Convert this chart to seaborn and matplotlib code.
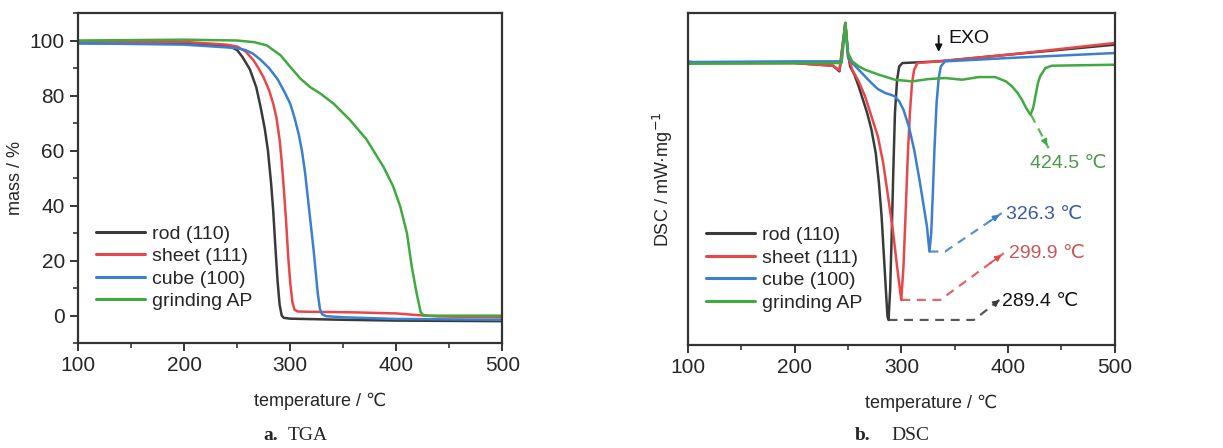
import numpy as np
import pandas as pd
import matplotlib
matplotlib.use("Agg")
import matplotlib.pyplot as plt
import seaborn as sns
from matplotlib.ticker import MultipleLocator

# === data: TGA (mass %) ===
tga_rod_t = [100, 200, 240, 245, 250, 255, 262, 268, 272, 276, 279, 282, 284, 286, 288, 290, 292, 294, 300, 350, 400, 500]
tga_rod_m = [99, 99, 98, 97.5, 96.5, 94, 89.5, 83, 76, 68, 60, 48, 38, 25, 13, 4, 0, -0.8, -1.1, -1.5, -1.8, -2]
tga_sheet_t = [100, 200, 240, 250, 258, 265, 270, 275, 280, 284, 287, 290, 292, 294, 296, 298, 300, 302, 304, 307, 320, 360, 400, 420, 440, 500]
tga_sheet_m = [99.5, 99.5, 98.5, 97.8, 96, 93, 90, 86.5, 82, 77, 72, 64, 56, 46, 35, 22, 12, 5, 2.2, 1.5, 1.4, 1.2, 0.8, 0.2, -0.3, -0.6]
tga_cube_t = [100, 200, 240, 250, 258, 265, 272, 280, 288, 295, 300, 304, 308, 311, 314, 316, 318, 320, 322, 324, 326, 328, 330, 334, 350, 400, 500]
tga_cube_m = [99, 98.5, 97.5, 97.2, 96.5, 95.2, 93, 90, 86, 81, 77, 72, 66, 60, 52, 45, 38, 31, 24, 16, 8, 2.5, 0.5, -0.2, -0.6, -1.2, -1.5]
tga_ap_t = [100, 200, 250, 266, 278, 291, 300, 310, 319, 328.5, 341, 356.6, 372, 388, 397, 403.6, 410, 414.5, 419, 423, 425.5, 430, 500]
tga_ap_m = [100, 100.3, 100, 99.4, 98.2, 94.6, 90.4, 86, 83, 80.7, 77, 71, 64, 54, 47, 39.8, 30, 18, 8.4, 1.2, 0.2, 0, 0]

# === data: DSC (arbitrary units, mW/mg) ===
dsc_rod_t = [100, 200, 236, 242, 247.5, 250, 252, 256, 260, 264, 268, 272, 276, 279, 281.5, 283.5, 285.5, 287, 288,
             289.5, 291, 292.5, 294, 296, 298, 301, 335, 400, 500]
dsc_rod_v = [0.0, 0.0, -0.08, -0.25, 1.2, 0.3, -0.1, -0.35, -0.7, -1.1, -1.5, -2.0, -2.7, -3.6, -4.6, -5.7, -6.8, -7.6, -7.7,
             -6.8, -5.1, -3.2, -1.5, -0.5, -0.1, 0.0, 0.05, 0.25, 0.55]
dsc_sheet_t = [100, 200, 236, 242, 247.5, 250, 254, 260, 266, 272, 278, 283, 288, 292, 296, 299.9,
               302, 304, 306, 308, 310, 312, 315, 335, 400, 500]
dsc_sheet_v = [0.0, 0.0, -0.08, -0.22, 1.2, 0.2, -0.2, -0.55, -1.0, -1.6, -2.2, -3.0, -4.1, -5.0, -6.1, -7.1,
               -6.1, -4.5, -2.8, -1.5, -0.6, -0.2, 0.0, 0.05, 0.25, 0.6]
dsc_cube_t = [100, 105, 200, 244, 247.5, 250, 254, 260, 266, 272, 278, 285, 290, 294, 298, 302, 307, 312, 317, 321, 324,
              326.3, 328, 329.5, 331, 333, 335, 337, 341, 400, 500]
dsc_cube_v = [0.05, 0.03, 0.05, 0.05, 1.2, 0.2, 0.0, -0.2, -0.4, -0.6, -0.78, -0.9, -0.95, -1.0, -1.15, -1.4, -1.9, -2.6,
              -3.5, -4.3, -4.9, -5.65, -5.1, -3.9, -2.6, -1.2, -0.45, -0.1, 0.05, 0.15, 0.3]
dsc_ap_t = [100, 200, 244, 247.5, 250, 254, 260, 266, 279, 294, 310, 325.6, 341, 357, 372.5, 388, 398, 403.7, 409, 413,
            417, 421, 423.5, 425.6, 428, 430, 435, 441, 500]
dsc_ap_v = [-0.02, 0.0, 0.0, 1.2, 0.3, 0.05, -0.1, -0.2, -0.35, -0.5, -0.55, -0.48, -0.45, -0.5, -0.42, -0.42, -0.55, -0.7,
            -0.9, -1.1, -1.35, -1.55, -1.35, -1.0, -0.6, -0.4, -0.15, -0.08, -0.05]

labels = ["rod (110)", "sheet (111)", "cube (100)", "grinding AP"]
colors = ["#3a3a3a", "#e8474a", "#3b7fd0", "#3faa3f"]

# peak labels
peak_text = ["289.4 ℃", "299.9 ℃", "326.3 ℃", "424.5 ℃"]
peak_colors = ["#111111", "#c9555a", "#3a5aa0", "#4a9a4a"]

tga = pd.concat([
    pd.DataFrame({"T": t, "v": m, "sample": lab})
    for t, m, lab in zip([tga_rod_t, tga_sheet_t, tga_cube_t, tga_ap_t],
                         [tga_rod_m, tga_sheet_m, tga_cube_m, tga_ap_m], labels)
])
dsc = pd.concat([
    pd.DataFrame({"T": t, "v": m, "sample": lab})
    for t, m, lab in zip([dsc_rod_t, dsc_sheet_t, dsc_cube_t, dsc_ap_t],
                         [dsc_rod_v, dsc_sheet_v, dsc_cube_v, dsc_ap_v], labels)
])

sns.set_style("ticks")
fam = ["Liberation Sans", "DejaVu Sans"]
plt.rcParams["font.family"] = fam
plt.rcParams["axes.linewidth"] = 1.6
plt.rcParams["axes.edgecolor"] = "#333333"

fig = plt.figure(figsize=(12.23, 4.48), dpi=100)
ax1 = fig.add_axes([0.0638, 0.234, 0.347, 0.737])
ax2 = fig.add_axes([0.5625, 0.230, 0.349, 0.741])

pal = dict(zip(labels, colors))

# === TGA ===
sns.lineplot(data=tga, x="T", y="v", hue="sample", palette=pal, sort=False,
             estimator=None, lw=1.8, ax=ax1)
ax1.set_xlim(100, 500)
ax1.set_ylim(-10, 110)
ax1.set_xticks([100, 200, 300, 400, 500])
ax1.xaxis.set_minor_locator(MultipleLocator(50))
ax1.set_yticks([0, 20, 40, 60, 80, 100])
ax1.yaxis.set_minor_locator(MultipleLocator(10))
ax1.set_xlabel("temperature / ℃", fontsize=13, labelpad=12)
ax1.set_ylabel("mass / %", fontsize=13, labelpad=4)

# === DSC ===
sns.lineplot(data=dsc, x="T", y="v", hue="sample", palette=pal, sort=False,
             estimator=None, lw=1.8, ax=ax2)
ax2.set_xlim(100, 500)
ax2.set_ylim(-8.45, 1.5)
ax2.set_xticks([100, 200, 300, 400, 500])
ax2.xaxis.set_minor_locator(MultipleLocator(50))
ax2.set_yticks([])
ax2.set_xlabel("temperature / ℃", fontsize=13, labelpad=12)
ax2.set_ylabel("DSC / mW·mg$^{-1}$", fontsize=13, labelpad=9)

# dashed leaders to peak labels
leaders = [
    ([288, 368, 394], [-7.7, -7.7, -7.05]),
    ([300, 336.5, 396], [-7.1, -7.1, -5.7]),
    ([326.3, 341, 394], [-5.65, -5.65, -4.5]),
    ([421.5, 438], [-1.55, -2.55]),
]
text_pos = [(394, -7.15), (400.5, -5.7), (398.5, -4.55), (421, -3.0)]
for (xs, ys), c, txt, (tx, ty), tc in zip(leaders, colors, peak_text, text_pos, peak_colors):
    ax2.plot(xs, ys, ls=(0, (4, 3)), color=c, lw=1.6, alpha=0.85)
    ax2.annotate("", xy=(xs[-1], ys[-1]),
                 xytext=(xs[-1] - 0.25 * (xs[-1] - xs[-2]), ys[-1] - 0.25 * (ys[-1] - ys[-2])),
                 arrowprops=dict(arrowstyle="-|>", color=c, lw=1.2, mutation_scale=9))
    ax2.text(tx, ty, txt, color=tc, fontsize=14, ha="left", va="center")

ax2.annotate("", xy=(335, 0.25), xytext=(335, 0.9),
             arrowprops=dict(arrowstyle="-|>", color="#111111", lw=1.3, mutation_scale=10))
ax2.text(344, 0.75, "EXO", fontsize=14, ha="left", va="center", color="#111111")

for ax in (ax1, ax2):
    ax.tick_params(axis="both", which="major", labelsize=15, length=6, width=1.3, direction="out")
    ax.tick_params(axis="both", which="minor", length=3.5, width=1.1, direction="out")
    for s in ax.spines.values():
        s.set_visible(True)
    ax.xaxis.set_label_coords(0.57, -0.15)
    leg = ax.legend(loc="lower left", bbox_to_anchor=(0.015, 0.065), frameon=False,
                    fontsize=14, handlelength=2.5, handletextpad=0.4,
                    labelspacing=0.25, borderaxespad=0.2)
    for line in leg.get_lines():
        line.set_linewidth(2.2)

# captions
fig.text(0.227, 0.008, "a.", fontsize=14, ha="right", va="bottom", family="Liberation Serif", weight="bold")
fig.text(0.2355, 0.008, "TGA", fontsize=14, ha="left", va="bottom", family="Liberation Serif")
fig.text(0.712, 0.008, "b.", fontsize=14, ha="right", va="bottom", family="Liberation Serif", weight="bold")
fig.text(0.729, 0.008, "DSC", fontsize=14, ha="left", va="bottom", family="Liberation Serif")

fig.savefig("out.png", dpi=100)
plt.close(fig)
